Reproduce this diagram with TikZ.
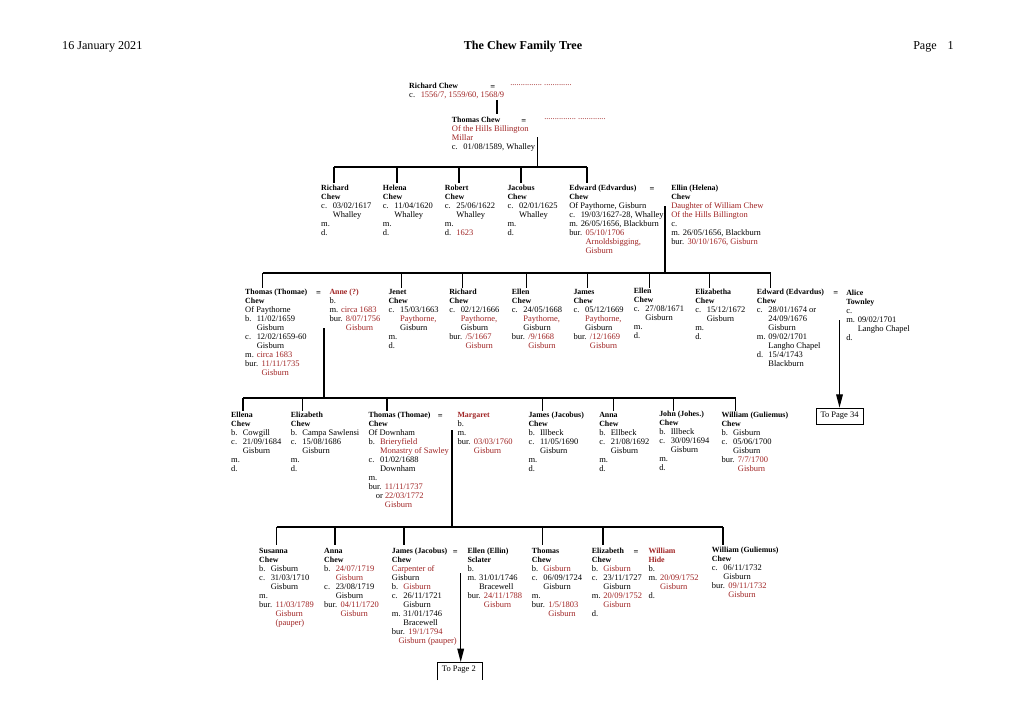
\documentclass[tikz,border=0pt]{standalone}
\usepackage{fontspec}
\setmainfont{Liberation Serif}
\usetikzlibrary{arrows.meta}
\definecolor{cred}{RGB}{160,36,36}
\newcommand\cwr[1]{\textcolor{cred}{#1}}
\newcommand\cwl[1]{\makebox[9.5pt][l]{#1}}
\newcommand\cwi{\hspace*{9.5pt}}
\newcommand\cwb{\makebox[13.5pt][l]{bur.}}
\newcommand\cwib{\hspace*{13.5pt}}
\newcommand\cwn[1]{{\fontsize{6.5}{7.45}\selectfont\bfseries #1}}
\begin{document}
\begin{tikzpicture}[x=0.8255pt,y=-0.8255pt,
  blk/.style={anchor=north west,inner sep=0pt,align=left,font=\fontsize{7}{7.45}\selectfont},
  eqs/.style={anchor=north west,inner sep=0pt,font=\fontsize{7}{7.45}\selectfont\bfseries},
  hdr/.style={inner sep=0pt,font=\fontsize{10}{12}\selectfont},
  ln/.style={line width=1pt,black},
  arr/.style={ln,-{Triangle[length=11pt,width=5.5pt]}},
  pagebox/.style={inner sep=0pt,font=\fontsize{7}{8}\selectfont}]
\fill[white] (0,0) rectangle (1020,721);
\useasboundingbox (0,0) rectangle (1020,721);

% header
\node[hdr,anchor=west] (hdate) at (62,47) {16 January 2021};
\node[hdr,font=\fontsize{10}{12}\selectfont\bfseries] (htitle) at (523,47) {The Chew Family Tree};
\node[hdr,anchor=west] (hpage) at (913,47) {Page\hspace*{9pt}1};

% ---------- generation 1 ----------
\node[blk] (rc) at (409,83) {\cwn{Richard Chew}\\\cwl{c.}\cwr{1556/7, 1559/60, 1568/9}};
\node[eqs] (rce) at (490,83) {\vphantom{Ch}=};
\node[blk,text=cred] (rcd) at (510,84) {...............\ .............};
\node[blk] (tc) at (451.7,117) {\cwn{Thomas Chew}\\\cwr{Of the Hills Billington}\\\cwr{Millar}\\\cwl{c.}01/08/1589, Whalley};
\node[eqs] (tce) at (521,117) {\vphantom{Ch}=};
\node[blk,text=cred] (tcd) at (544,118) {...............\ .............};

\coordinate (m0a) at (497,100);
\coordinate (m0b) at (497,114);
\draw[ln] (m0a) -- (m0b);

\coordinate (m1a) at (537.5,137);
\coordinate (m1b) at (537.5,167);
\draw[ln] (m1a) -- (m1b);
\draw[ln] (334,167) -- (587,167);
\foreach \x in {334,397,459,521,587} \draw[ln] (\x,167) -- (\x,183);

% ---------- generation 2 ----------
\node[blk] (g2a) at (321,185) {\cwn{Richard}\\\cwn{Chew}\\\cwl{c.}03/02/1617\\\cwi Whalley\\m.\\d.};
\node[blk] (g2b) at (382.7,185) {\cwn{Helena}\\\cwn{Chew}\\\cwl{c.}11/04/1620\\\cwi Whalley\\m.\\d.};
\node[blk] (g2c) at (444.7,185) {\cwn{Robert}\\\cwn{Chew}\\\cwl{c.}25/06/1622\\\cwi Whalley\\m.\\\cwl{d.}\cwr{1623}};
\node[blk] (g2d) at (507.3,185) {\cwn{Jacobus}\\\cwn{Chew}\\\cwl{c.}02/01/1625\\\cwi Whalley\\m.\\d.};
\node[blk] (g2e) at (569,185) {\cwn{Edward (Edvardus)}\\\cwn{Chew}\\Of Paythorne, Gisburn\\\cwl{c.}19/03/1627-28, Whalley\\\cwl{m.}26/05/1656, Blackburn\\\cwb\cwr{05/10/1706}\\\cwib\cwr{Arnoldsbigging,}\\\cwib\cwr{Gisburn}};
\node[eqs] (g2ee) at (649.3,185) {\vphantom{Ch}=};
\node[blk] (g2f) at (671,185) {\cwn{Ellin (Helena)}\\\cwn{Chew}\\\cwr{Daughter of William Chew}\\\cwr{Of the Hills Billington}\\c.\\\cwl{m.}26/05/1656, Blackburn\\\cwb\cwr{30/10/1676, Gisburn}};

\coordinate (m2a) at (665,206);
\coordinate (m2b) at (665,273);
\draw[ln] (m2a) -- (m2b);
\draw[ln] (262.7,273) -- (770.5,273);
\foreach \x in {262.7,401.3,462.3,526.4,587.5,649.8,709.5,770.5} \draw[ln] (\x,273) -- (\x,288);

% ---------- generation 3 ----------
\node[blk] (g3a) at (245,289) {\cwn{Thomas (Thomae)}\\\cwn{Chew}\\Of Paythorne\\\cwl{b.}11/02/1659\\\cwi Gisburn\\\cwl{c.}12/02/1659-60\\\cwi Gisburn\\\cwl{m.}\cwr{circa 1683}\\\cwb\cwr{11/11/1735}\\\cwib\cwr{Gisburn}};
\node[eqs] (g3ae) at (316,289) {\vphantom{Ch}=};
\node[blk] (g3b) at (329.3,289) {\cwn{\cwr{Anne (?)}}\\b.\\\cwl{m.}\cwr{circa 1683}\\\cwb\cwr{8/07/1756}\\\cwib\cwr{Gisburn}};
\node[blk] (g3c) at (388.3,289) {\cwn{Jenet}\\\cwn{Chew}\\\cwl{c.}15/03/1663\\\cwi\cwr{Paythorne,}\\\cwi Gisburn\\m.\\d.};
\node[blk] (g3d) at (449,289) {\cwn{Richard}\\\cwn{Chew}\\\cwl{c.}02/12/1666\\\cwi\cwr{Paythorne,}\\\cwi Gisburn\\\cwb\cwr{/5/1667}\\\cwib\cwr{Gisburn}};
\node[blk] (g3e) at (511.7,289) {\cwn{Ellen}\\\cwn{Chew}\\\cwl{c.}24/05/1668\\\cwi\cwr{Paythorne,}\\\cwi Gisburn\\\cwb\cwr{/9/1668}\\\cwib\cwr{Gisburn}};
\node[blk] (g3f) at (573.3,289) {\cwn{James}\\\cwn{Chew}\\\cwl{c.}05/12/1669\\\cwi\cwr{Paythorne,}\\\cwi Gisburn\\\cwb\cwr{/12/1669}\\\cwib\cwr{Gisburn}};
\node[blk] (g3g) at (633.7,287.5) {\cwn{Ellen}\\\cwn{Chew}\\\cwl{c.}27/08/1671\\\cwi Gisburn\\m.\\d.};
\node[blk] (g3h) at (695,289) {\cwn{Elizabetha}\\\cwn{Chew}\\\cwl{c.}15/12/1672\\\cwi Gisburn\\m.\\d.};
\node[blk] (g3i) at (756.7,289) {\cwn{Edward (Edvardus)}\\\cwn{Chew}\\\cwl{c.}28/01/1674 or\\\cwi 24/09/1676\\\cwi Gisburn\\\cwl{m.}09/02/1701\\\cwi Langho Chapel\\\cwl{d.}15/4/1743\\\cwi Blackburn};
\node[eqs] (g3ie) at (833,289) {\vphantom{Ch}=};
\node[blk] (g3j) at (846,290) {\cwn{Alice}\\\cwn{Townley}\\c.\\\cwl{m.}09/02/1701\\\cwi Langho Chapel\\d.};

\coordinate (m3a) at (324,328);
\coordinate (m3b) at (324,398);
\draw[ln] (m3a) -- (m3b);
\draw[ln] (243,398) -- (735.7,398);
\foreach \x in {243,302.8,387,542.6,613.2,673.8,735.7} \draw[ln] (\x,398) -- (\x,411);

\node[pagebox,draw,line width=0.6pt,minimum width=38.8pt,minimum height=13.2pt] (tp34) at (839.5,416) {To Page 34};
\coordinate (m34) at (839.5,320);
\draw[arr] (m34) -- (tp34.north);

% ---------- generation 4 ----------
\node[blk] (g4a) at (231,412) {\cwn{Ellena}\\\cwn{Chew}\\\cwl{b.}Cowgill\\\cwl{c.}21/09/1684\\\cwi Gisburn\\m.\\d.};
\node[blk] (g4b) at (290.7,412) {\cwn{Elizabeth}\\\cwn{Chew}\\\cwl{b.}Campa Sawlensi\\\cwl{c.}15/08/1686\\\cwi Gisburn\\m.\\d.};
\node[blk] (g4c) at (368.3,412) {\cwn{Thomas (Thomae)}\\\cwn{Chew}\\Of Downham\\\cwl{b.}\cwr{Brieryfield}\\\cwi\cwr{Monastry of Sawley}\\\cwl{c.}01/02/1688\\\cwi Downham\\m.\\\cwb\cwr{11/11/1737}\\\hspace*{6pt}or \cwr{22/03/1772}\\\cwib\cwr{Gisburn}};
\node[eqs] (g4ce) at (437.7,412) {\vphantom{Ch}=};
\node[blk] (g4d) at (457.3,412) {\cwn{\cwr{Margaret}}\\b.\\m.\\\cwb\cwr{03/03/1760}\\\cwib\cwr{Gisburn}};
\node[blk] (g4e) at (528.3,412) {\cwn{James (Jacobus)}\\\cwn{Chew}\\\cwl{b.}Illbeck\\\cwl{c.}11/05/1690\\\cwi Gisburn\\m.\\d.};
\node[blk] (g4f) at (599,412) {\cwn{Anna}\\\cwn{Chew}\\\cwl{b.}Ellbeck\\\cwl{c.}21/08/1692\\\cwi Gisburn\\m.\\d.};
\node[blk] (g4g) at (659,410.5) {\cwn{John (Johes.)}\\\cwn{Chew}\\\cwl{b.}Illbeck\\\cwl{c.}30/09/1694\\\cwi Gisburn\\m.\\d.};
\node[blk] (g4h) at (721.3,412) {\cwn{William (Guliemus)}\\\cwn{Chew}\\\cwl{b.}Gisburn\\\cwl{c.}05/06/1700\\\cwi Gisburn\\\cwb\cwr{7/7/1700}\\\cwib\cwr{Gisburn}};

\coordinate (m4a) at (452,430);
\coordinate (m4b) at (452,527);
\draw[ln] (m4a) -- (m4b);
\draw[ln] (276.7,527) -- (723,527);
\foreach \x in {276.7,335,404,542.7,603,723} \draw[ln] (\x,527) -- (\x,545);

% ---------- generation 5 ----------
\node[blk] (g5a) at (259,548) {\cwn{Susanna}\\\cwn{Chew}\\\cwl{b.}Gisburn\\\cwl{c.}31/03/1710\\\cwi Gisburn\\m.\\\cwb\cwr{11/03/1789}\\\cwib\cwr{Gisburn}\\\cwib\cwr{(pauper)}};
\node[blk] (g5b) at (324,548) {\cwn{Anna}\\\cwn{Chew}\\\cwl{b.}\cwr{24/07/1719}\\\cwi\cwr{Gisburn}\\\cwl{c.}23/08/1719\\\cwi Gisburn\\\cwb\cwr{04/11/1720}\\\cwib\cwr{Gisburn}};
\node[blk] (g5c) at (391.7,548) {\cwn{James (Jacobus)}\\\cwn{Chew}\\\cwr{Carpenter of}\\Gisburn\\\cwl{b.}\cwr{Gisburn}\\\cwl{c.}26/11/1721\\\cwi Gisburn\\\cwl{m.}31/01/1746\\\cwi Bracewell\\\cwb\cwr{19/1/1794}\\\hspace*{5.5pt}\cwr{Gisburn (pauper)}};
\node[eqs] (g5ce) at (452.7,548) {\vphantom{Ch}=};
\node[blk] (g5d) at (467.3,548) {\cwn{Ellen (Ellin)}\\\cwn{Sclater}\\b.\\\cwl{m.}31/01/1746\\\cwi Bracewell\\\cwb\cwr{24/11/1788}\\\cwib\cwr{Gisburn}};
\node[blk] (g5e) at (531.7,548) {\cwn{Thomas}\\\cwn{Chew}\\\cwl{b.}\cwr{Gisburn}\\\cwl{c.}06/09/1724\\\cwi Gisburn\\m.\\\cwb\cwr{1/5/1803}\\\cwib\cwr{Gisburn}};
\node[blk] (g5f) at (591.7,548) {\cwn{Elizabeth}\\\cwn{Chew}\\\cwl{b.}\cwr{Gisburn}\\\cwl{c.}23/11/1727\\\cwi Gisburn\\\cwl{m.}\cwr{20/09/1752}\\\cwi\cwr{Gisburn}\\d.};
\node[eqs] (g5fe) at (633.3,548) {\vphantom{Ch}=};
\node[blk] (g5g) at (648.3,548) {\cwn{\cwr{William}}\\\cwn{\cwr{Hide}}\\b.\\\cwl{m.}\cwr{20/09/1752}\\\cwi\cwr{Gisburn}\\d.};
\node[blk] (g5h) at (711.7,546.5) {\cwn{William (Guliemus)}\\\cwn{Chew}\\\cwl{c.}06/11/1732\\\cwi Gisburn\\\cwb\cwr{09/11/1732}\\\cwib\cwr{Gisburn}};

% to page 2
\node[pagebox,anchor=west] (tp2) at (441.7,670) {To Page 2};
\coordinate (b2l) at (437,680);
\coordinate (b2tl) at (437,662);
\coordinate (b2tr) at (482,662);
\coordinate (b2r) at (482,680);
\draw[line width=0.6pt] (b2l) -- (b2tl) -- (b2tr) -- (b2r);
\coordinate (m5a) at (460.7,573);
\coordinate (m5b) at (460.7,662);
\draw[arr] (m5a) -- (m5b);
\end{tikzpicture}
\end{document}
